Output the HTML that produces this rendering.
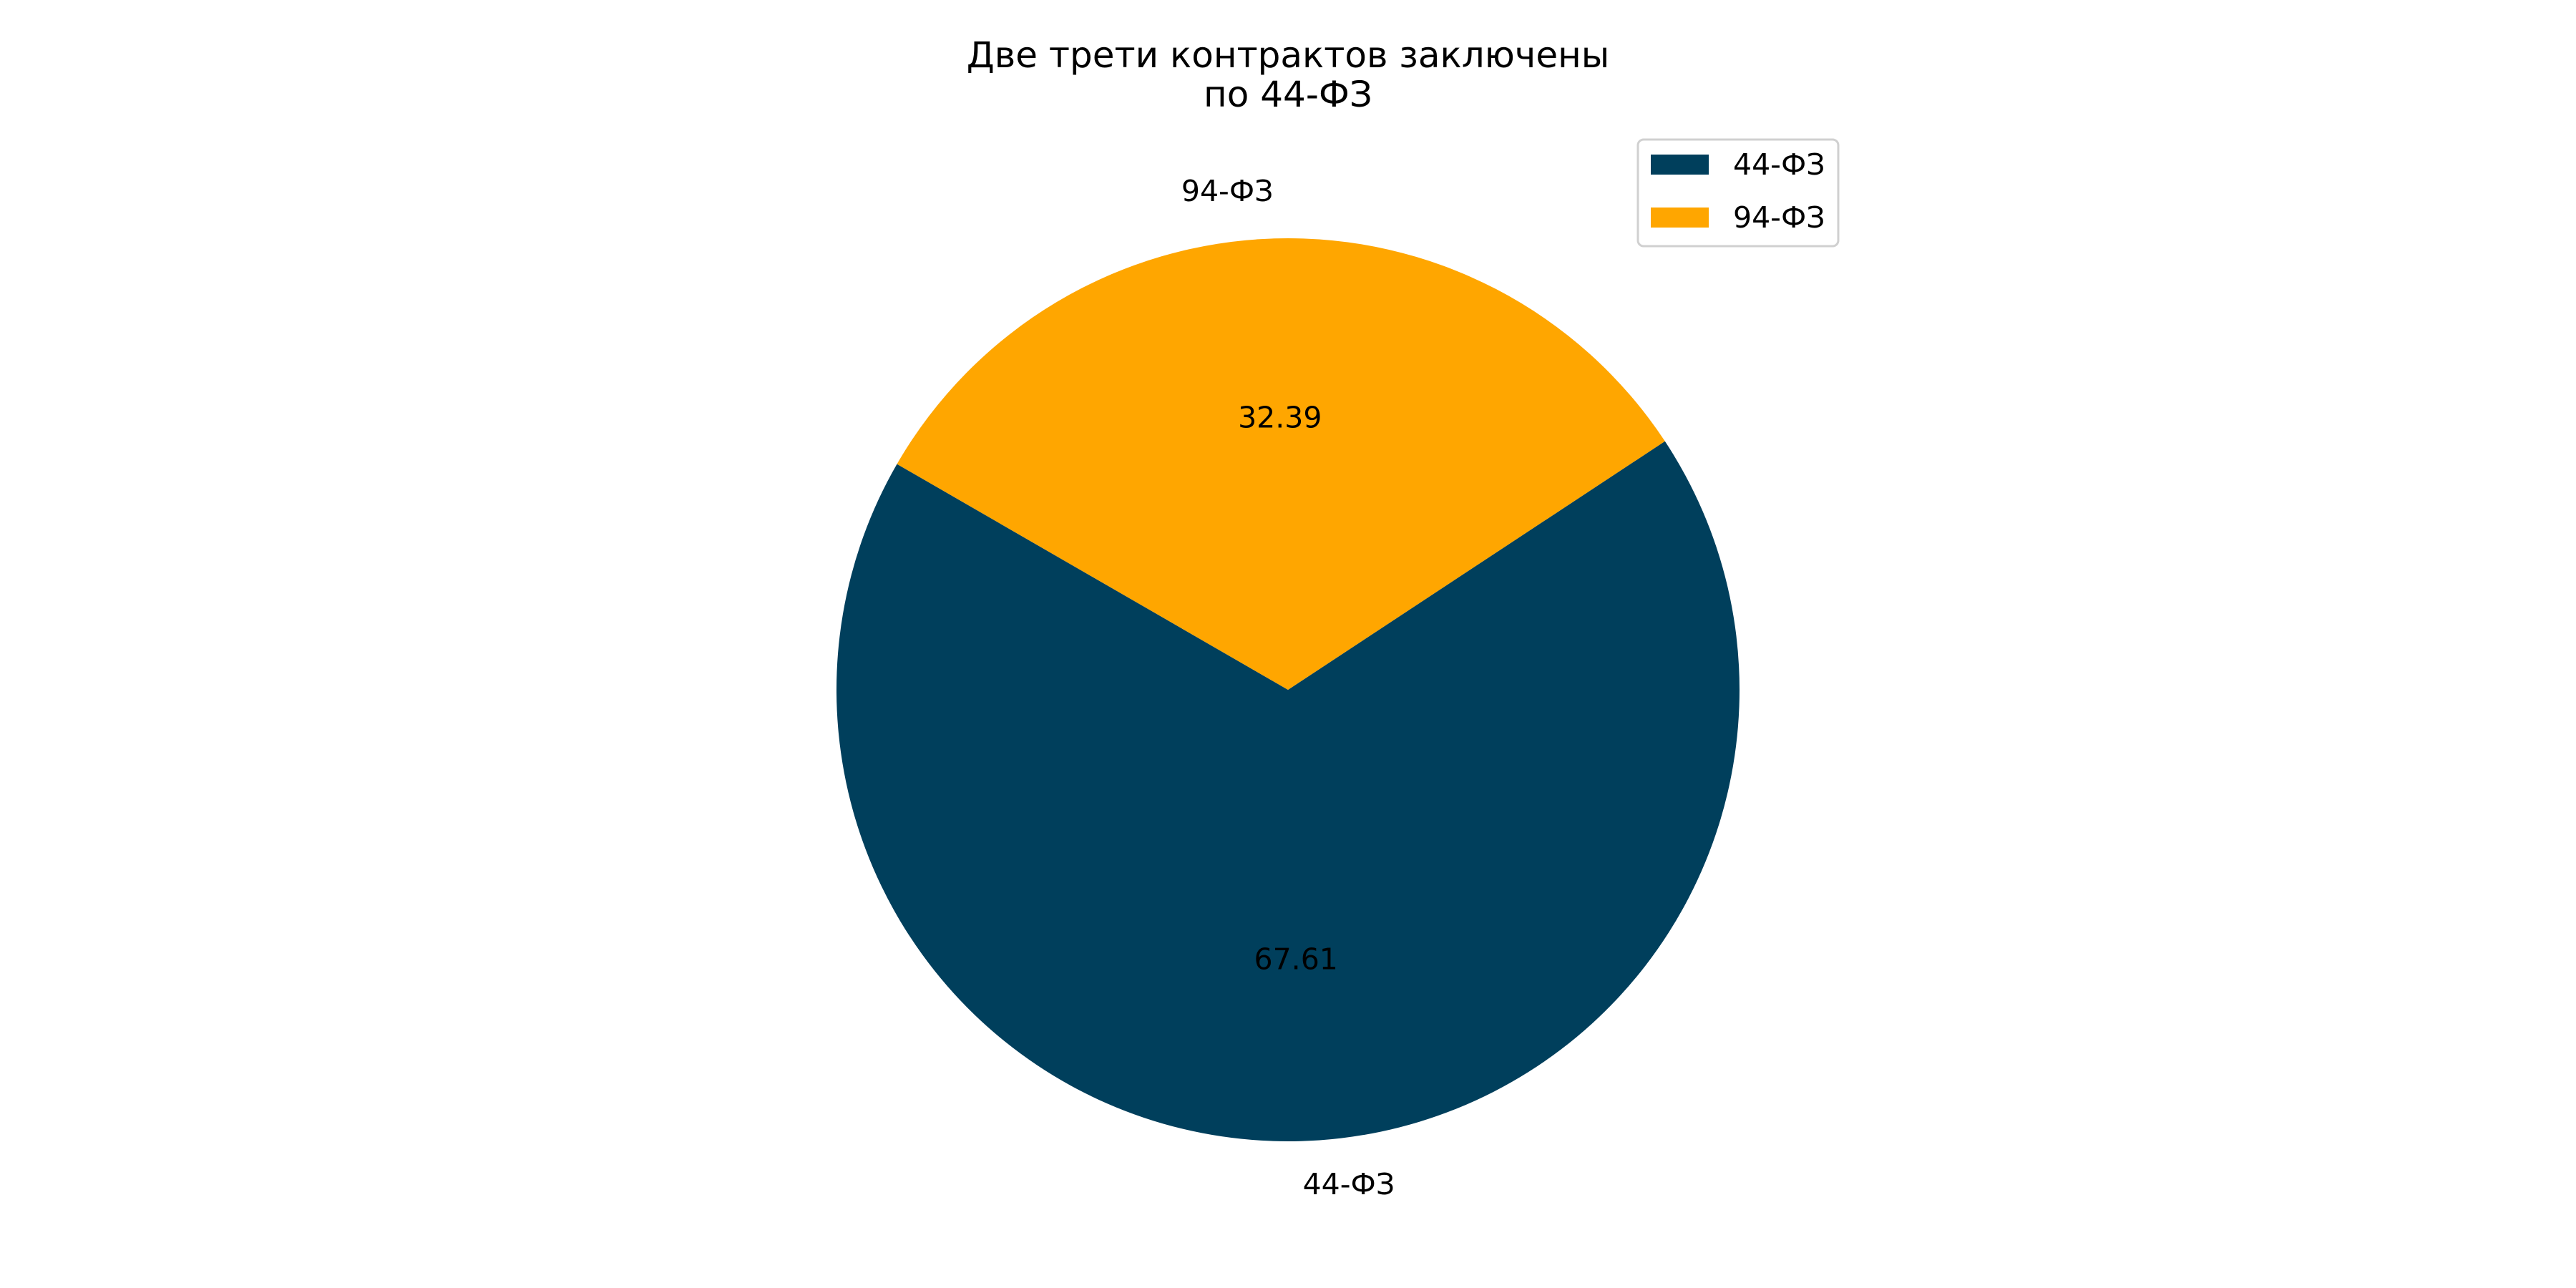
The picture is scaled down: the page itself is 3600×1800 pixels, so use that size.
<!DOCTYPE html>
<html><head><meta charset="utf-8"><style>
html,body{margin:0;padding:0;background:#fff;}
svg{display:block;font-family:"DejaVu Sans","Liberation Sans",sans-serif;}
</style></head><body>
<svg id="chart" width="3600" height="1800" viewBox="0 0 3600 1800" xmlns="http://www.w3.org/2000/svg">
<rect width="3600" height="1800" fill="#fff"/>
<text text-anchor="middle" font-size="50" fill="#000"><tspan x="1800" y="94">Две трети контрактов заключены</tspan><tspan x="1800" y="149">по 44-ФЗ</tspan></text>
<g id="slices"></g>
<g>
<rect x="2289" y="195" width="280" height="149" rx="8" fill="#fff" stroke="#d0d0d0" stroke-width="3"/>
<rect x="2307" y="216" width="81" height="28" fill="#003f5c"/>
<text x="2422" y="244" font-size="41">44-ФЗ</text>
<rect x="2307" y="290" width="81" height="28" fill="#ffa600"/>
<text x="2422" y="318" font-size="41">94-ФЗ</text>
</g>
</svg>
<script>
const categories = ["44-ФЗ", "94-ФЗ"];
const values = [67.61, 32.39];
const pctLabels = ["67.61", "32.39"];
const colors = ["#003f5c", "#ffa600"];
const cx = 1800, cy = 964, r = 631, startAngle = 150;
const ns = "http://www.w3.org/2000/svg";
const g = document.getElementById("slices");
const total = values.reduce((a,b)=>a+b,0);
let a0 = startAngle;
function pt(deg, rad){const t=deg*Math.PI/180;return [cx+rad*Math.cos(t), cy-rad*Math.sin(t)];}
values.forEach((v,i)=>{
  const sweep = v/total*360, a1 = a0+sweep;
  const p0 = pt(a0,r), p1 = pt(a1,r);
  const path = document.createElementNS(ns,"path");
  path.setAttribute("d",`M${cx},${cy} L${p0[0]},${p0[1]} A${r},${r} 0 ${sweep>180?1:0} 0 ${p1[0]},${p1[1]} Z`);
  path.setAttribute("fill",colors[i]);
  
  
  g.appendChild(path);
  const mid = (a0+a1)/2;
  const lp = pt(mid, r*1.1);
  const lab = document.createElementNS(ns,"text");
  lab.setAttribute("x",lp[0]);
  lab.setAttribute("y",lp[1]+11);
  lab.setAttribute("font-size","41");
  lab.setAttribute("text-anchor", Math.cos(mid*Math.PI/180)<0?"end":"start");
  lab.textContent = categories[i];
  
  
  g.appendChild(lab);
  const pp = pt(mid, r*0.6);
  const pct = document.createElementNS(ns,"text");
  pct.setAttribute("x",pp[0]);
  pct.setAttribute("y",pp[1]+12);
  pct.setAttribute("font-size","41");
  pct.setAttribute("text-anchor","middle");
  pct.textContent = pctLabels[i];
  
  
  g.appendChild(pct);
  a0 = a1;
});
</script>
</body></html>
